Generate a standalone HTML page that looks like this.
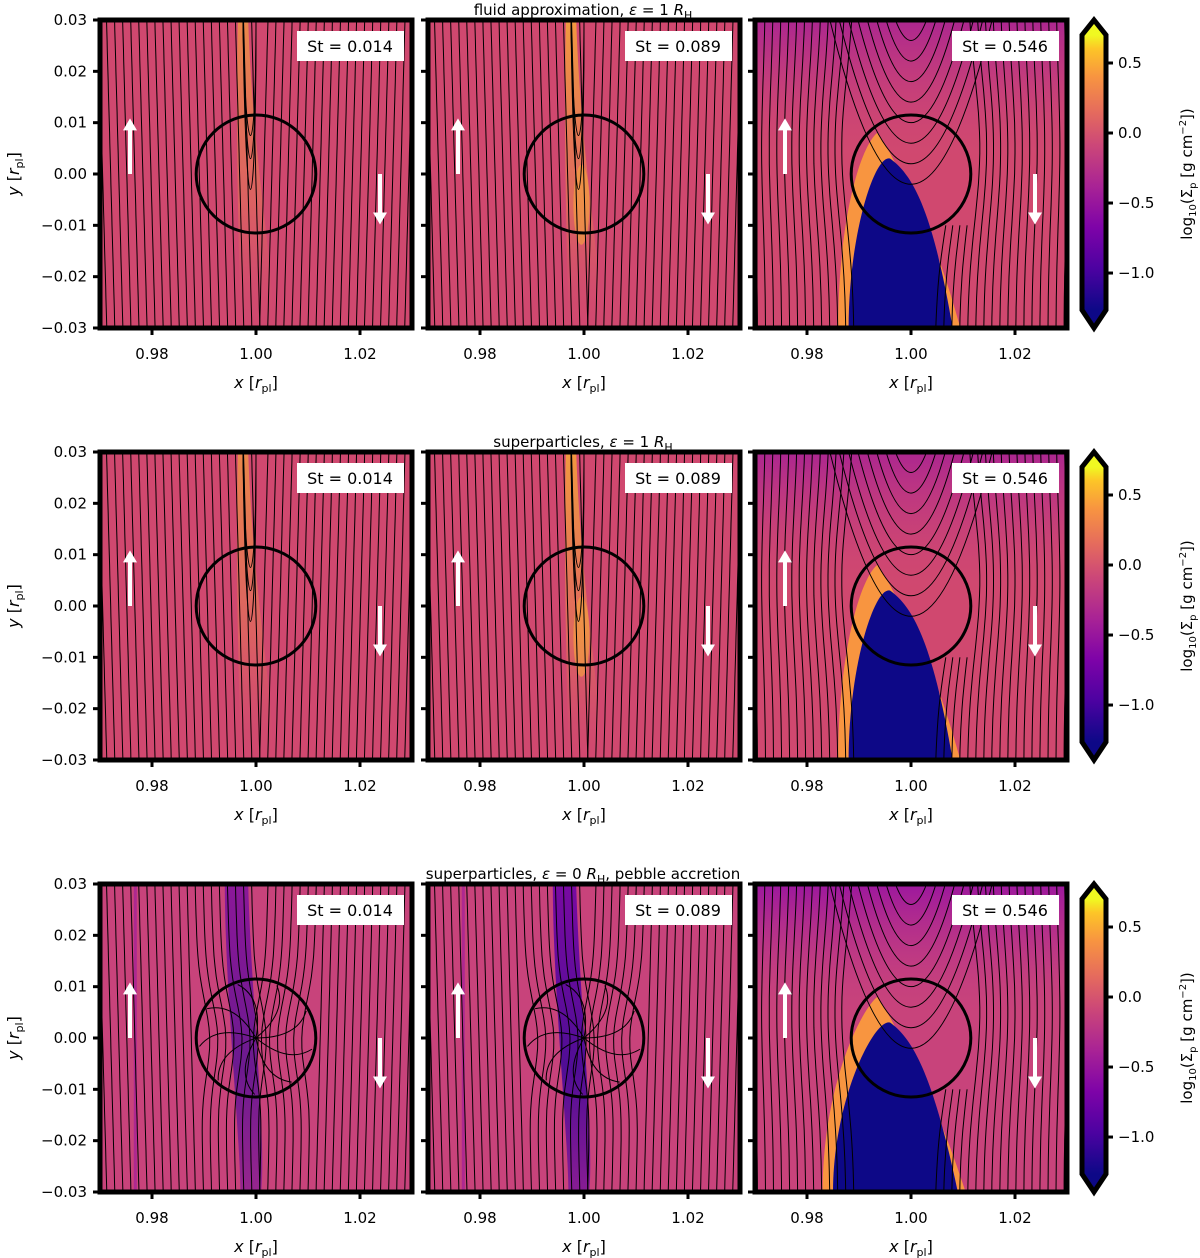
<!DOCTYPE html>
<html><head><meta charset="utf-8"><style>
html,body{margin:0;padding:0;background:#fff;}
svg{display:block;font-family:"DejaVu Sans","Liberation Sans",sans-serif;}
</style></head><body>
<svg id="fig" width="1200" height="1258" viewBox="0 0 1200 1258" xmlns="http://www.w3.org/2000/svg">
<defs>
<linearGradient id="cbar" x1="0" y1="1" x2="0" y2="0">
<stop offset="0" stop-color="#0d0887"/><stop offset="0.15" stop-color="#4c02a1"/><stop offset="0.3" stop-color="#7e03a8"/><stop offset="0.45" stop-color="#a92395"/><stop offset="0.6" stop-color="#cc4778"/><stop offset="0.72" stop-color="#e56b5d"/><stop offset="0.85" stop-color="#f89540"/><stop offset="0.95" stop-color="#fdc527"/><stop offset="1" stop-color="#f0f921"/>
</linearGradient>
<linearGradient id="stripeY" x1="0" y1="0" x2="0" y2="1"><stop offset="0" stop-color="#f5a23a"/><stop offset="0.6" stop-color="#e47458" stop-opacity="0.8"/><stop offset="1" stop-color="#d4526e" stop-opacity="0"/></linearGradient>
<linearGradient id="stripeP" x1="0" y1="0" x2="0" y2="1"><stop offset="0" stop-color="#6a00a8"/><stop offset="0.6" stop-color="#3a049a"/><stop offset="1" stop-color="#5a02a3" stop-opacity="0.7"/></linearGradient>
<linearGradient id="topP" x1="0" y1="0" x2="0" y2="1"><stop offset="0" stop-color="#9c179e"/><stop offset="1" stop-color="#c8437b" stop-opacity="0"/></linearGradient>
</defs>
<g id="root"></g>
</svg>
<script>
const rowTitles = ["fluid approximation, ", "superparticles, ", "superparticles, "];
const rowEps = ["1", "1", "0"];
const rowTitleSuffix = ["", "", ", pebble accretion"];
const stValues = ["0.014", "0.089", "0.546"];
const xTicks = [0.98, 1.00, 1.02];
const yTicks = [0.03, 0.02, 0.01, 0.00, -0.01, -0.02, -0.03];
const cbarTicks = [0.5, 0.0, -0.5, -1.0];
const cbarRange = [-1.264, 0.7];
const xRange = [0.97, 1.03];
const yRange = [-0.03, 0.03];
const hillRadius = 0.0115;

const NS = "http://www.w3.org/2000/svg";
const root = document.getElementById("root");
function el(tag, attrs, parent, text) {
  const e = document.createElementNS(NS, tag);
  for (const k in attrs) e.setAttribute(k, attrs[k]);
  if (text !== undefined) e.textContent = text;
  (parent || root).appendChild(e);
  return e;
}
const panelX = [100, 428, 755], PW = 312, PH = 308;
const rowY = [20, 452, 884];
function fmt(v){ return (v<0?"\u2212":"") + Math.abs(v).toFixed(2); }

for (let r = 0; r < 3; r++) {
  const y0 = rowY[r];
  const t = el("text", {x: 583, y: y0 - 5, "text-anchor": "middle", "font-size": 15});
  
  
  el("tspan", {}, t, rowTitles[r]);
  el("tspan", {"font-style": "italic"}, t, "\u03b5");
  el("tspan", {}, t, " = " + rowEps[r] + " ");
  el("tspan", {"font-style": "italic"}, t, "R");
  el("tspan", {"font-size": 11, dy: 4}, t, "H");
  el("tspan", {dy: -4}, t, rowTitleSuffix[r]);

  for (let p = 0; p < 3; p++) {
    const x0 = panelX[p];
    const X = v => x0 + (v - xRange[0]) / (xRange[1] - xRange[0]) * PW;
    const Y = v => y0 + (yRange[1] - v) / (yRange[1] - yRange[0]) * PH;
    const g = el("g", {});
    
    
    const cid = "clip" + r + p;
    const cp = el("clipPath", {id: cid}, g);
    el("rect", {x: x0, y: y0, width: PW, height: PH}, cp);
    const inner = el("g", {"clip-path": "url(#" + cid + ")"}, g);
    const bg = el("rect", {x: x0, y: y0, width: PW, height: PH, fill: r === 2 ? "#c8437b" : "#d0486f"}, inner);
    
    

    if (p < 2 && r < 2) {
      el("path", {d: `M${X(0.9965)},${y0} L${X(0.9985)},${y0} C${X(0.9995)},${Y(0)} ${X(1.004)},${Y(-0.02)} ${X(1.003)},${y0+PH} L${X(0.997)},${y0+PH} C${X(0.997)},${Y(-0.02)} ${X(0.996)},${Y(0)} ${X(0.9965)},${y0}Z`, fill: "url(#stripeY)", opacity: p === 0 ? 0.7 : 0.9}, inner);
      if (p === 1) el("ellipse", {cx: X(0.9995), cy: Y(-0.006), rx: 8, ry: 40, fill: "#f7a83a", opacity: 0.6}, inner);
    } else if (p < 2 && r === 2) {
      el("path", {d: `M${X(0.994)},${y0} L${X(0.9985)},${y0} C${X(0.999)},${Y(0.01)} ${X(1.002)},${Y(-0.02)} ${X(1.001)},${y0+PH} L${X(0.997)},${y0+PH} C${X(0.997)},${Y(-0.02)} ${X(0.994)},${Y(0.01)} ${X(0.994)},${y0}Z`, fill: "url(#stripeP)", opacity: p === 0 ? 0.65 : 0.85}, inner);
      el("rect", {x: X(0.9765), y: y0, width: 3, height: PH, fill: "#9c179e", opacity: 0.6}, inner);
    } else {
      el("rect", {x: x0, y: y0, width: PW, height: PH * 0.45, fill: "url(#topP)", opacity: r === 2 ? 1 : 0.7}, inner);
      const L = r === 2 ? 0.985 : 0.988, R = r === 2 ? 1.009 : 1.008;
      el("path", {d: `M${X(L-0.002)},${y0+PH} C${X(L-0.002)},${Y(-0.01)} ${X(0.99)},${Y(0.005)} ${X(0.9935)},${Y(0.008)} L${X(0.996)},${Y(0.004)} C${X(1.0)},${Y(-0.004)} ${X(1.004)},${Y(-0.01)} ${X(R+0.0015)},${y0+PH}Z`, fill: "#f89540"}, inner);
      const blue = el("path", {d: `M${X(L)},${y0+PH} C${X(L)},${Y(-0.012)} ${X(0.993)},${Y(0.004)} ${X(0.996)},${Y(0.003)} C${X(1.0)},${Y(0.0)} ${X(1.004)},${Y(-0.006)} ${X(R)},${y0+PH}Z`, fill: "#0d0887"}, inner);
      
      
    }

    const sl = el("g", {stroke: "#000", "stroke-width": 1, fill: "none"}, inner);
    for (let xs = 0.9705; xs < 1.030; xs += 0.00155) {
      const off = xs - 1.0;
      let kStart = 0;
      if (p === 2 && Math.abs(off) < 0.0105) {
        if (off > 0.0035) kStart = 20; else continue;
      }
      let d = "";
      for (let k = kStart; k <= 30; k++) {
        const yv = yRange[1] - k * 0.002;
        let dx = 0;
        if (p === 2) {
          dx = Math.sign(off) * 0.005 * Math.exp(-Math.pow((yv - 0.005) / 0.02, 2)) * Math.exp(-Math.abs(off) / 0.015);
        } else {
          dx = -0.0008 * (yv / 0.03) * (off < 0 ? 1 : -1);
        }
        if (r === 2 && p < 2 && Math.abs(off) < 0.012) dx += 0.002 * Math.exp(-Math.pow(yv / 0.01, 2)) * Math.sign(off) * -1;
        d += (k > kStart ? "L" : "M") + X(xs + dx).toFixed(1) + "," + Y(yv).toFixed(1);
      }
      const pth = el("path", {d: d}, sl);
      
      
    }
    if (p === 2) {
      for (let k = 0; k < 8; k++) {
        const w = 0.003 + k * 0.0018, yb = 0.026 - k * 0.004;
        el("path", {d: `M${X(1.0 - w)},${y0} Q${X(1.0)},${Y(yb - (0.03 - yb))} ${X(1.0 + w)},${y0}`}, sl);
      }
    } else if (r < 2) {
      [0.0, -0.006, -0.014].forEach(yb => el("path", {d: `M${X(0.9975)},${y0} C${X(0.998)},${Y(yb)} ${X(1.0)},${Y(yb)} ${X(1.0)},${y0}`}, sl));
    } else {
      for (let k = 0; k < 9; k++) {
        const a = Math.PI * 2 * k / 9;
        el("path", {d: `M${X(1)},${Y(0)} Q${X(1 + 0.008 * Math.cos(a))},${Y(0.008 * Math.sin(a))} ${X(1 + 0.011 * Math.cos(a + 0.5))},${Y(0.011 * Math.sin(a + 0.5))}`}, sl);
      }
    }

    const c = el("ellipse", {cx: X(1.0), cy: Y(0), rx: hillRadius / 0.06 * PW, ry: hillRadius / 0.06 * PH, fill: "none", stroke: "#000", "stroke-width": 3}, inner);
    
    
    const au = el("path", {d: `M${x0+28},${Y(0)} V${Y(0.0085)} h-5 l7,-12 l7,12 h-5 V${Y(0)}Z`, fill: "#fff"}, inner);
    
    
    const ad = el("path", {d: `M${x0+284},${Y(0)} V${Y(-0.0075)} h5 l-7,12 l-7,-12 h5 V${Y(0)}Z`, transform: "translate(-2,0)", fill: "#fff"}, inner);
    
    
    el("rect", {x: x0 + 197, y: y0 + 11, width: 107, height: 30, fill: "#fff"}, g);
    const lab = el("text", {x: x0 + 250, y: y0 + 32, "text-anchor": "middle", "font-size": 16}, g, "St = " + stValues[p]);
    
    
    el("rect", {x: x0, y: y0, width: PW, height: PH, fill: "none", stroke: "#000", "stroke-width": 5}, g);
    xTicks.forEach(v => {
      el("line", {x1: X(v), x2: X(v), y1: y0 + PH, y2: y0 + PH + 7, stroke: "#000", "stroke-width": 3}, g);
      const tl = el("text", {x: X(v), y: y0 + PH + 31, "text-anchor": "middle", "font-size": 15}, g, v.toFixed(2));
      
      
    });
    const xt = el("text", {x: X(1.0), y: y0 + PH + 60, "text-anchor": "middle", "font-size": 16}, g);
    
    
    el("tspan", {"font-style": "italic"}, xt, "x");
    el("tspan", {}, xt, " [");
    el("tspan", {"font-style": "italic"}, xt, "r");
    el("tspan", {"font-size": 11, dy: 4}, xt, "pl");
    el("tspan", {dy: -4}, xt, "]");
    yTicks.forEach(v => {
      el("line", {x1: x0 - 7, x2: x0, y1: Y(v), y2: Y(v), stroke: "#000", "stroke-width": 3}, g);
      if (p === 0) {
        const tl = el("text", {x: x0 - 13, y: Y(v) + 5, "text-anchor": "end", "font-size": 15}, g, fmt(v));
        
        
      }
    });
    if (p === 0) {
      const yt = el("text", {x: 0, y: 0, "text-anchor": "middle", "font-size": 16, transform: `translate(19,${Y(0)}) rotate(-90)`}, g);
      
      
      el("tspan", {"font-style": "italic"}, yt, "y");
      el("tspan", {}, yt, " [");
      el("tspan", {"font-style": "italic"}, yt, "r");
      el("tspan", {"font-size": 11, dy: 4}, yt, "pl");
      el("tspan", {dy: -4}, yt, "]");
    }
  }

  const cb = el("g", {});
  
  
  const cx0 = 1082, cw = 24, top = y0 + 15, bot = y0 + 290;
  const CY = v => bot - (v - cbarRange[0]) / (cbarRange[1] - cbarRange[0]) * (bot - top);
  el("rect", {x: cx0, y: top, width: cw, height: bot - top, fill: "url(#cbar)"}, cb);
  el("path", {d: `M${cx0},${top} L${cx0 + cw / 2},${y0} L${cx0 + cw},${top}Z`, fill: "#f0f921"}, cb);
  el("path", {d: `M${cx0},${bot} L${cx0 + cw / 2},${y0 + PH} L${cx0 + cw},${bot}Z`, fill: "#0d0887"}, cb);
  el("path", {d: `M${cx0},${top} L${cx0 + cw / 2},${y0} L${cx0 + cw},${top} V${bot} L${cx0 + cw / 2},${y0 + PH} L${cx0},${bot}Z`, fill: "none", stroke: "#000", "stroke-width": 5}, cb);
  cbarTicks.forEach(v => {
    el("line", {x1: cx0 + cw, x2: cx0 + cw + 7, y1: CY(v), y2: CY(v), stroke: "#000", "stroke-width": 3}, cb);
    const tl = el("text", {x: cx0 + cw + 12, y: CY(v) + 5, "font-size": 15}, cb, (v < 0 ? "\u2212" : "") + Math.abs(v).toFixed(1));
    
    
  });
  const ct = el("text", {x: 0, y: 0, "text-anchor": "middle", "font-size": 15, transform: `translate(1192,${y0 + 154}) rotate(-90)`}, cb);
  
  
  el("tspan", {}, ct, "log");
  el("tspan", {"font-size": 10, dy: 4}, ct, "10");
  el("tspan", {dy: -4}, ct, "(\u03a3");
  el("tspan", {"font-size": 10, dy: 4}, ct, "p");
  el("tspan", {dy: -4}, ct, " [g cm");
  el("tspan", {"font-size": 10, dy: -6}, ct, "\u22122");
  el("tspan", {dy: 6}, ct, "])");
}
</script>
</body></html>
